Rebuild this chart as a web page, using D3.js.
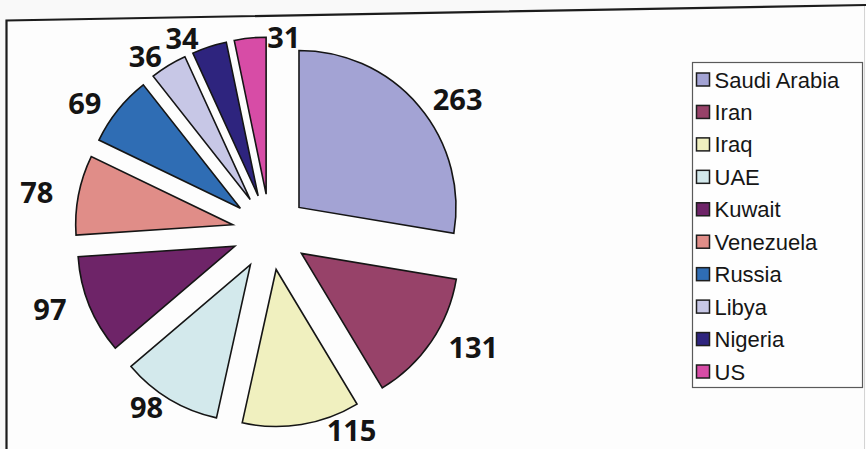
<!DOCTYPE html>
<html>
<head>
<meta charset="utf-8">
<script src="https://cdn.jsdelivr.net/npm/d3@7"></script>
<style>
  html, body { margin: 0; padding: 0; background: #f9f9f9; }
  svg { display: block; }
</style>
</head>
<body>
<svg id="chart" width="866" height="449"></svg>
<script>
// Proven oil reserves (billion barrels) by country
const countries = ["Saudi Arabia", "Iran", "Iraq", "UAE", "Kuwait", "Venezuela", "Russia", "Libya", "Nigeria", "US"];
const reserves = [263, 131, 115, 98, 97, 78, 69, 36, 34, 31];
const sliceColors = ["#a3a3d4", "#974269", "#f0f0bf", "#d3e9ec", "#6e2468",
                     "#e08d88", "#2f6db4", "#c7c7e6", "#2e247e", "#d74ca6"];

const W = 866, H = 449;
const svg = d3.select("#chart");

const data = countries.map((name, i) => ({ name, value: reserves[i], color: sliceColors[i] }));

// chart area background and frame
svg.append("path")
  .attr("d", `M6.5,${H} L6.5,20.5 L${W},5 L${W},${H} Z`)
  .attr("fill", "#fdfdfd");
svg.append("path")
  .attr("d", `M6.5,${H} L6.5,20.5 L${W},5`)
  .attr("fill", "none")
  .attr("stroke", "#1c1c1c")
  .attr("stroke-width", 2.2);
svg.append("line")
  .attr("x1", 864.5).attr("x2", 864.5).attr("y1", 6).attr("y2", H)
  .attr("stroke", "#d4d4d4").attr("stroke-width", 1);
const frameTop = x => 20.5 - (x - 6.5) * 15.5 / (W - 6.5);

// exploded pie
const cx = 270, cy = 232, radius = 157, explode = 38;
const pie = d3.pie().sort(null).value(d => d.value).startAngle(0).endAngle(2 * Math.PI);
const arcs = pie(data);
const arc = d3.arc().innerRadius(0).outerRadius(radius);
const midAngle = a => (a.startAngle + a.endAngle) / 2;
const offsetOf = a => [explode * Math.sin(midAngle(a)), -explode * Math.cos(midAngle(a))];

const pieG = svg.append("g").attr("transform", `translate(${cx},${cy})`);
pieG.selectAll("path.slice")
  .data(arcs)
  .join("path")
  .attr("class", "slice")
  .attr("transform", a => `translate(${offsetOf(a)[0]},${offsetOf(a)[1]})`)
  .attr("d", arc)
  .attr("fill", a => a.data.color)
  .attr("stroke", "#151515")
  .attr("stroke-width", 1.6)
  .attr("stroke-linejoin", "miter");

// outline samples of every slice, used to keep labels clear of the wedges
const outlines = arcs.map(a => {
  const [ox, oy] = offsetOf(a);
  const vx = cx + ox, vy = cy + oy;
  const pts = [];
  for (let t = a.startAngle; t <= a.endAngle; t += 0.004) {
    pts.push([vx + radius * Math.sin(t), vy - radius * Math.cos(t)]);
  }
  [a.startAngle, a.endAngle].forEach(t => {
    const ex = vx + radius * Math.sin(t), ey = vy - radius * Math.cos(t);
    for (let s = 0; s <= 1; s += 0.005) pts.push([vx + (ex - vx) * s, vy + (ey - vy) * s]);
  });
  return pts;
});

// value labels around the pie
const fontSize = 29, capH = fontSize * 0.72, descent = fontSize * 0.27;
const labelRx = 222, labelRy = 205, pad = 1.5;
const placed = [];
const labelG = svg.append("g");

arcs.forEach(a => {
  const m = midAngle(a);
  const t = labelG.append("text")
    .attr("font-family", "'Open Sans', 'DejaVu Sans', sans-serif")
    .attr("font-weight", 700)
    .attr("font-size", fontSize)
    .attr("fill", "#141414")
    .attr("text-anchor", "middle")
    .text(a.data.value);
  const hw = t.node().getComputedTextLength() / 2 - 1, hh = capH / 2;

  let x = cx + (labelRx + hw) * Math.sin(m);
  let y = cy - labelRy * Math.cos(m);
  y = Math.max(y, frameTop(x) + 11 + hh);
  y = Math.min(y, H - hh - descent - 0.5);

  const free = xx => {
    const x0 = xx - hw - pad, x1 = xx + hw + pad, y0 = y - hh - pad, y1 = y + hh + pad;
    for (const pts of outlines) {
      for (const p of pts) if (p[0] > x0 && p[0] < x1 && p[1] > y0 && p[1] < y1) return false;
    }
    for (const b of placed) {
      if (x0 < b[2] && x1 > b[0] && y0 < b[3] && y1 > b[1]) return false;
    }
    return true;
  };
  let fx = x;
  search:
  for (let k = 0; k <= 220; k++) {
    for (const s of (k ? [1, -1] : [1])) {
      if (free(x + s * k)) { fx = x + s * k; break search; }
    }
  }
  placed.push([fx - hw, y - hh, fx + hw, y + hh]);
  t.attr("x", fx).attr("y", y + hh);
});

// legend
const legendX = 692, legendY = 62, legendW = 170, legendH = 325;
const legend = svg.append("g");
legend.append("rect")
  .attr("x", legendX + 0.5).attr("y", legendY + 0.5)
  .attr("width", legendW).attr("height", legendH)
  .attr("fill", "#fefefe")
  .attr("stroke", "#5a5a5a")
  .attr("stroke-width", 1.2);

const rowY = d3.scalePoint().domain(countries).range([79.5, 371.5]);
const rows = legend.selectAll("g.row")
  .data(data)
  .join("g")
  .attr("class", "row")
  .attr("transform", d => `translate(${legendX}, ${rowY(d.name)})`);
rows.append("rect")
  .attr("x", 4.5).attr("y", -6.5)
  .attr("width", 13).attr("height", 13)
  .attr("fill", d => d.color)
  .attr("stroke", "#1e1e1e")
  .attr("stroke-width", 1.5);
rows.append("text")
  .attr("x", 22.5).attr("y", 8)
  .attr("font-family", "'Liberation Sans', Arial, sans-serif")
  .attr("font-size", 22)
  .attr("fill", "#161616")
  .text(d => d.name);
</script>
</body>
</html>
